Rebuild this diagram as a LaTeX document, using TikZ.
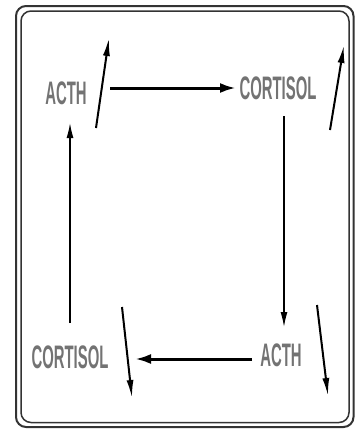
\documentclass[tikz,border=0pt]{standalone}
\usepackage{fontspec}
\setmainfont{Liberation Sans}
\usetikzlibrary{arrows.meta}
\begin{document}
\begin{tikzpicture}[x=1pt,y=-1pt,
  lbl/.style={text=black!55,font=\fontsize{31}{32}\selectfont\bfseries,xscale=0.48,yscale=1.05,inner sep=0pt,anchor=center},
  mainarr/.style={line width=3pt,-{Latex[length=16pt,width=10pt]}},
  vertarr/.style={line width=1.4pt,-{Latex[length=15pt,width=7pt]}},
  smallarr/.style={line width=2pt,-{Latex[length=18pt,width=7pt]}},
  frame/.style={draw=black!80,rounded corners=10pt}]
\useasboundingbox (0,0) rectangle (354,429);
\draw[frame,line width=2pt] (16,6) rectangle (353.5,427);
\draw[frame,line width=1.5pt] (21,11) rectangle (349,422.5);
\node[lbl] (acth1) at (66,93) {ACTH};
\node[lbl] (cort1) at (278,88) {CORTISOL};
\node[lbl] (cort2) at (70,357) {CORTISOL};
\node[lbl] (acth2) at (281,355) {ACTH};
\coordinate (a1s) at (110,88);
\coordinate (a1e) at (236,88);
\draw[mainarr] (a1s) -- (a1e);
\coordinate (a2s) at (252,359);
\coordinate (a2e) at (135,359);
\draw[mainarr] (a2s) -- (a2e);
\coordinate (v1s) at (284,116);
\coordinate (v1e) at (284,327);
\draw[vertarr] (v1s) -- (v1e);
\coordinate (v2s) at (70,323);
\coordinate (v2e) at (70,123);
\draw[vertarr] (v2s) -- (v2e);
\coordinate (s1s) at (96,128);
\coordinate (s1e) at (109,38);
\draw[smallarr] (s1s) -- (s1e);
\coordinate (s2s) at (330,130);
\coordinate (s2e) at (344,45);
\draw[smallarr] (s2s) -- (s2e);
\coordinate (s3s) at (122,307);
\coordinate (s3e) at (132,398);
\draw[smallarr] (s3s) -- (s3e);
\coordinate (s4s) at (317,305);
\coordinate (s4e) at (328,396);
\draw[smallarr] (s4s) -- (s4e);
\end{tikzpicture}
\end{document}
